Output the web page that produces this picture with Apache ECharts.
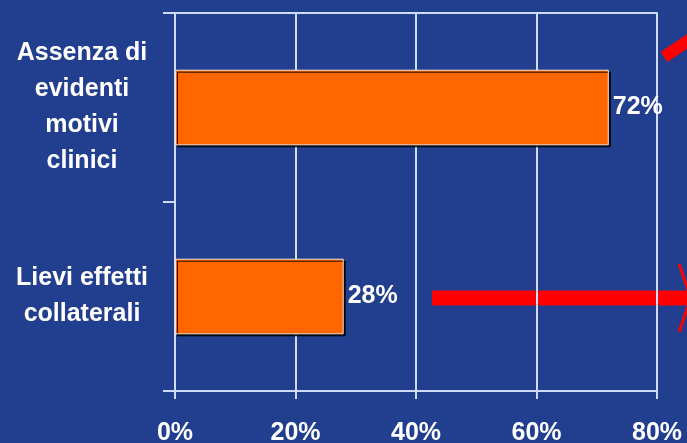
<!DOCTYPE html>
<html>
<head>
<meta charset="utf-8">
<script src="https://cdn.jsdelivr.net/npm/echarts@6/dist/echarts.min.js"></script>
<style>
html,body{margin:0;padding:0;background:#223e8e;}
#c{width:687px;height:443px;}
</style>
</head>
<body>
<div id="c"></div>
<script>
const categories = ['Assenza di\nevidenti\nmotivi\nclinici', 'Lievi effetti\ncollaterali'];
const values = [72, 28];
const xTicks = [0, 20, 40, 60, 80];

const chart = echarts.init(document.getElementById('c'));
const font = '"Liberation Sans", Arial, sans-serif';
const gridColor = '#cddcfa';
chart.setOption({
  backgroundColor: '#223e8e',
  animation: false,
  grid: {left: 175, right: 30, top: 13, bottom: 52, containLabel: false, outerBoundsMode: 'none'},
  xAxis: [{
    type: 'value', min: xTicks[0], max: xTicks[xTicks.length - 1], interval: 20,
    axisLine: {show: true, lineStyle: {color: gridColor, width: 2}},
    axisTick: {show: true, length: 8, lineStyle: {color: gridColor, width: 2}},
    splitLine: {show: true, lineStyle: {color: gridColor, width: 2}},
    axisLabel: {formatter: '{value}%', color: '#ffffff', fontFamily: font, fontWeight: 'bold', fontSize: 25, margin: 30}
  }, {
    type: 'value', position: 'top', min: xTicks[0], max: xTicks[xTicks.length - 1], interval: 20,
    axisLine: {show: true, lineStyle: {color: gridColor, width: 2}},
    axisTick: {show: false}, splitLine: {show: false}, axisLabel: {show: false}
  }],
  yAxis: {
    type: 'category', data: categories, inverse: true,
    axisLine: {show: true, lineStyle: {color: gridColor, width: 2}},
    axisTick: {show: true, length: 12, lineStyle: {color: gridColor, width: 2}},
    axisLabel: {color: '#ffffff', fontFamily: font, fontWeight: 'bold', fontSize: 25, lineHeight: 36, align: 'center', margin: 93}
  },
  series: [{
    type: 'bar', data: values, barWidth: '40%', xAxisIndex: 0,
    itemStyle: {color: '#ff6600', borderColor: '#f6e2d0', borderWidth: 1,
      shadowColor: 'rgba(0,0,0,0.85)', shadowOffsetX: 2, shadowOffsetY: 2, shadowBlur: 0},
    label: {show: true, position: 'right', distance: 4, formatter: '{c}%', color: '#ffffff',
      fontFamily: font, fontWeight: 'bold', fontSize: 25}
  }],
  graphic: [
    {type: 'line', shape: {x1: 432, y1: 298, x2: 690, y2: 298}, style: {stroke: '#ff0000', lineWidth: 15}},
    {type: 'polyline', shape: {points: [[679, 264], [691, 298], [679, 332]]}, style: {stroke: '#ff0000', lineWidth: 3, fill: null}},
    {type: 'line', shape: {x1: 664, y1: 57, x2: 692, y2: 38}, style: {stroke: '#ff0000', lineWidth: 12}}
  ]
});
</script>
</body>
</html>
